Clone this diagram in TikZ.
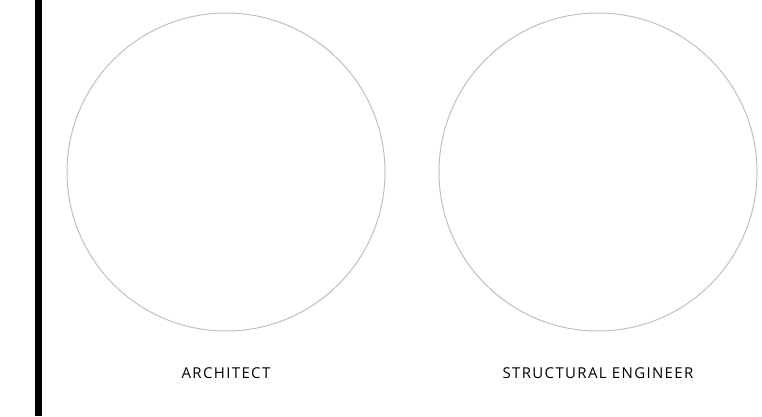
\documentclass[tikz,border=0pt]{standalone}
\usepackage{fontspec}
\setmainfont{Open Sans}
\newfontfamily\labfont[LetterSpace=9]{Open Sans}
\usepackage{tikz}
\usetikzlibrary{positioning}

\begin{document}
\begin{tikzpicture}[x=1pt,y=1pt,
  role/.style={draw=black!25,line width=1pt,circle,minimum size=318pt,inner sep=0pt},
  lab/.style={font=\labfont\fontsize{15}{17}\selectfont,text=black,inner sep=0pt,anchor=base}]
\useasboundingbox (0,0) rectangle (762,416);
\fill[black] (35,0) rectangle (42,416);
\node[role] (architect) at (226,244) {};
\node[role] (engineer) at (598,244) {};
\node[lab] (archlab) at (226,38) {ARCHITECT};
\node[lab] (englab) at (598,38) {STRUCTURAL ENGINEER};
\end{tikzpicture}
\end{document}
